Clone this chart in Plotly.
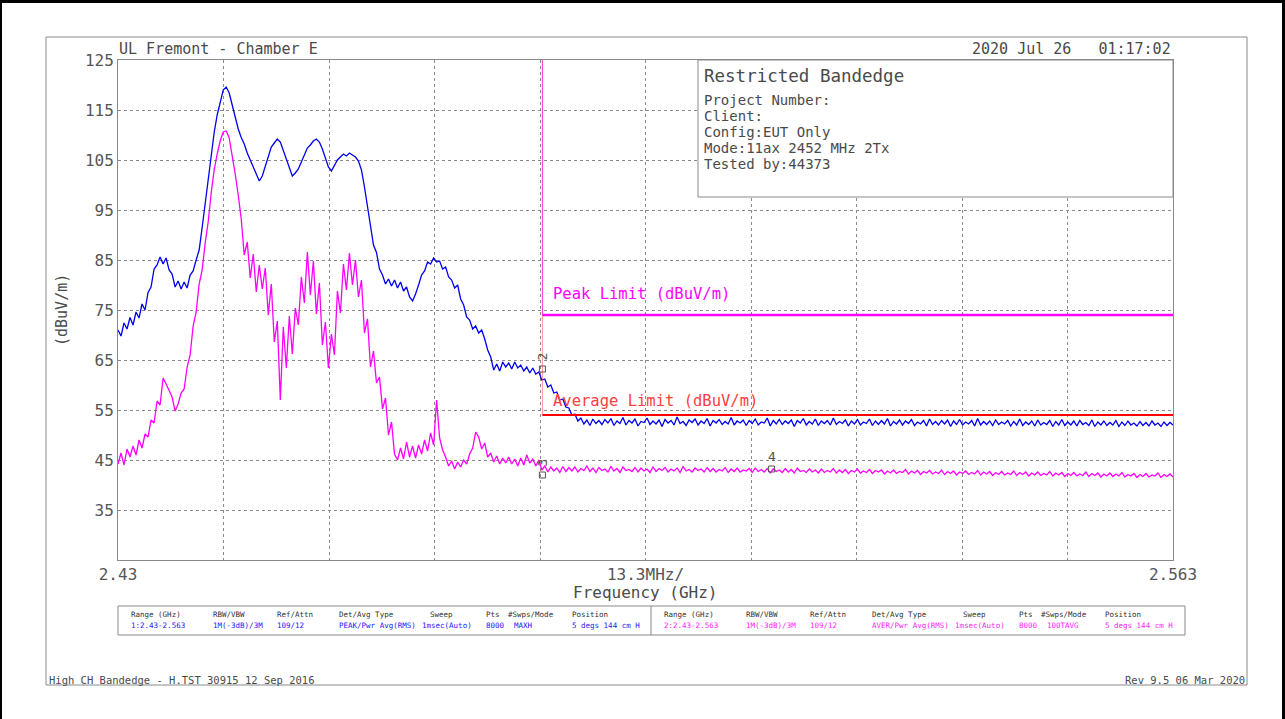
import numpy as np
import plotly.graph_objects as go

# ---------------- data ----------------
F_START, F_STOP = 2.43, 2.563          # GHz
Y_MIN, Y_MAX = 25, 125                 # dBuV/m

# Trace 1: PEAK / MAXH (blue) on a uniform sweep grid
peak_vals = [
    71.0, 69.8, 72.4, 71.2, 73.5, 72.0, 74.6, 73.4, 76.2, 75.0,
    78.5, 79.6, 83.2, 84.0, 85.6, 84.2, 85.4, 83.0, 82.2, 79.6,
    80.8, 79.2, 80.6, 79.4, 82.0, 82.8, 85.0, 87.0, 91.5, 96.5,
    101.5, 106.0, 110.5, 114.0, 116.8, 119.0, 119.6, 118.4, 116.0, 113.6,
    111.2, 109.5, 108.2, 106.4, 105.0, 103.4, 102.2, 100.8, 101.8, 103.6,
    105.8, 107.6, 108.4, 109.2, 108.6, 107.0, 105.2, 103.6, 101.8, 102.4,
    103.2, 104.6, 106.0, 107.4, 108.0, 108.8, 109.2, 108.6, 107.2, 105.4,
    103.6, 102.8, 104.0, 105.0, 105.6, 106.2, 105.8, 106.4, 106.0, 105.6,
    104.8, 103.0, 99.6, 96.0, 92.5, 88.0, 86.5, 83.2, 82.0, 80.2,
    81.2, 79.8, 81.0, 79.4, 80.6, 78.8, 79.6, 77.6, 76.8, 78.2,
    80.0, 82.0, 82.8, 84.6, 84.2, 85.4, 84.6, 84.8, 83.2, 83.6,
    81.6, 81.0, 79.4, 80.0, 77.2, 76.0, 73.6, 73.0, 71.2, 71.8,
    70.4, 71.0, 69.2, 67.0, 65.6, 63.0, 64.2, 62.8, 64.6, 63.6,
    64.4, 63.2, 64.6, 63.4, 64.0, 62.8, 63.6, 62.4, 63.4, 62.2,
    62.6, 61.0, 61.2, 59.6, 60.0, 58.4, 58.6, 57.0, 57.2, 55.6,
    55.4, 54.0, 54.2, 52.8, 53.4, 52.2, 53.0, 51.9, 53.2, 52.3,
    52.9, 52.1, 53.1, 52.4, 53.3, 51.9, 52.8, 52.3, 53.5, 52.0, 52.9, 52.4,
    53.2, 51.8, 52.7, 52.5, 53.4, 52.1, 52.8, 52.2, 53.0, 51.7, 53.1, 52.4,
    52.9, 52.0, 53.6, 52.3, 52.7, 51.9, 53.0, 52.5, 53.2, 52.0, 52.8, 52.3,
    53.3, 51.8, 52.9, 52.4, 53.1, 52.1, 52.7, 52.2, 53.5, 52.0, 52.8, 52.4,
    53.0, 51.9, 52.9, 52.3, 53.2, 52.0, 52.6, 52.4, 53.4, 51.8, 52.9, 52.2,
    53.1, 52.1, 52.8, 52.3, 53.0, 51.7, 52.9, 52.4, 53.3, 52.0, 52.7, 52.2,
    53.2, 51.9, 52.8, 52.3, 52.9, 52.0, 53.4, 52.1, 52.7, 52.3, 53.0, 51.8,
    52.8, 52.2, 53.1, 52.0, 52.6, 52.3, 53.2, 51.9, 52.8, 52.1, 52.9, 52.2,
    53.3, 51.8, 52.7, 52.2, 53.0, 52.0, 52.8, 52.3, 53.1, 51.9, 52.6, 52.2,
    52.9, 51.8, 53.2, 52.1, 52.7, 52.0, 52.9, 52.2, 53.0, 51.7, 52.8, 52.1,
    53.1, 52.0, 52.6, 52.2, 52.9, 51.8, 53.3, 52.0, 52.7, 52.1, 52.8, 51.9,
    53.0, 52.1, 52.6, 52.2, 52.9, 51.8, 52.7, 52.0, 53.2, 51.9, 52.6, 52.1,
    52.8, 51.8, 53.0, 52.0, 52.5, 52.1, 52.9, 51.7, 52.7, 52.0, 53.1, 51.9,
    52.6, 52.0, 52.8, 51.8, 52.9, 52.1, 52.5, 51.9, 53.0, 51.7, 52.6, 52.0,
    52.8, 51.9, 52.5, 52.0, 52.9, 51.7, 52.6, 51.9, 52.8, 52.0, 52.4, 51.8,
    52.7, 51.9, 52.5, 51.8, 52.8, 52.0, 52.4, 51.7, 52.6, 51.9, 52.5, 52.0,
]

# Trace 2: AVER / 100TAVG (magenta)
avg_vals = [
    44.2, 46.4, 44.0, 47.2, 45.6, 47.8, 46.0, 49.0, 47.4, 50.2,
    49.6, 53.0, 52.4, 56.8, 56.0, 61.4, 60.2, 59.0, 57.6, 54.8,
    56.2, 58.4, 59.2, 63.6, 66.0, 71.8, 74.6, 80.2, 83.0, 88.4,
    92.6, 98.4, 103.0, 106.2, 108.8, 110.6, 110.8, 109.4, 106.0, 102.2,
    98.0, 93.2, 86.0, 88.6, 81.4, 86.2, 78.6, 84.0, 79.2, 83.4,
    74.0, 80.2, 68.6, 72.8, 57.0, 71.6, 63.4, 73.8, 66.2, 75.4,
    72.0, 81.6, 76.4, 86.6, 78.0, 84.8, 74.2, 80.4, 68.0, 72.6,
    63.4, 70.2, 66.0, 78.8, 74.4, 84.2, 79.0, 86.4, 80.0, 85.0,
    77.6, 81.0, 70.4, 73.2, 63.6, 66.8, 60.4, 61.6, 55.2, 57.4,
    50.0, 52.6, 46.2, 45.0, 47.4, 45.2, 48.6, 45.6, 47.8, 45.4,
    48.0, 46.2, 49.0, 46.8, 50.4, 48.0, 57.0, 49.4, 47.0, 45.6,
    43.8, 44.8, 43.2, 44.6, 43.6, 45.0, 44.2, 46.2, 47.4, 50.6,
    49.6, 47.2, 48.4, 45.6, 46.4, 44.6, 45.8, 44.2, 45.4, 44.4,
    45.6, 44.2, 45.2, 43.8, 45.4, 44.0, 46.0, 44.4, 45.2, 43.8,
    45.0, 43.0, 43.8, 42.6, 43.6, 42.8, 43.4, 42.5, 43.7, 42.7,
    43.5, 42.8, 43.6, 42.6, 43.3, 42.9, 43.8, 42.7, 43.4, 42.5, 43.5, 42.9,
    43.2, 42.6, 43.7, 42.8, 43.3, 42.5, 43.6, 42.9, 43.1, 42.7, 43.5, 42.6,
    43.4, 42.8, 43.2, 42.5, 43.6, 42.7, 43.3, 42.9, 43.5, 42.6, 43.2, 42.8,
    43.4, 42.5, 43.7, 42.8, 43.1, 42.6, 43.4, 42.9, 43.2, 42.6, 43.5, 42.7,
    43.3, 42.6, 43.1, 42.8, 43.5, 42.5, 43.2, 42.7, 43.4, 42.6, 43.0, 42.8,
    43.3, 42.5, 43.4, 42.7, 43.1, 42.6, 43.3, 42.4, 43.2, 42.7, 43.0, 42.5,
    43.3, 42.6, 43.1, 42.4, 43.4, 42.7, 42.9, 42.5, 43.2, 42.6, 43.0, 42.4,
    43.2, 42.5, 42.9, 42.6, 43.3, 42.4, 43.0, 42.5, 43.1, 42.3, 42.9, 42.6,
    43.2, 42.4, 42.8, 42.5, 43.1, 42.3, 42.9, 42.6, 43.0, 42.2, 42.8, 42.4,
    43.0, 42.3, 42.7, 42.5, 43.1, 42.2, 42.8, 42.4, 42.9, 42.1, 42.7, 42.4,
    42.9, 42.2, 42.6, 42.3, 43.0, 42.1, 42.7, 42.3, 42.8, 42.0, 42.6, 42.3,
    42.8, 42.1, 42.5, 42.2, 42.9, 42.0, 42.6, 42.2, 42.7, 41.9, 42.5, 42.1,
    42.7, 42.0, 42.4, 42.1, 42.8, 41.9, 42.5, 42.1, 42.6, 41.8, 42.4, 42.0,
    42.6, 41.9, 42.3, 42.0, 42.7, 41.8, 42.4, 42.0, 42.5, 41.7, 42.3, 41.9,
    42.5, 41.8, 42.2, 41.9, 42.6, 41.7, 42.3, 41.9, 42.4, 41.6, 42.2, 41.8,
    42.4, 41.7, 42.2, 41.8, 42.5, 41.6, 42.1, 41.8, 42.3, 41.5, 42.1, 41.7,
    42.3, 41.6, 42.0, 41.8, 42.4, 41.5, 42.1, 41.7, 42.2, 41.6,
]

freq_peak = np.linspace(F_START, F_STOP, len(peak_vals))
freq_avg = np.linspace(F_START, F_STOP, len(avg_vals))

band_edge = 2.4835
peak_limit = 74.0
avg_limit = 54.0

marker_labels = ["2", "3", "4"]
marker_freqs = [2.4835, 2.4835, 2.5124]
marker_vals = [63.2, 42.0, 43.2]

y_tick_vals = [35, 45, 55, 65, 75, 85, 95, 105, 115, 125]
x_grid_vals = list(np.linspace(F_START, F_STOP, 11))
x_tick_text = ["2.43", "", "", "", "", "13.3MHz/", "", "", "", "", "2.563"]

info_title = "Restricted Bandedge"
info_lines = ["Project Number:", "Client:", "Config:EUT Only",
              "Mode:11ax 2452 MHz 2Tx", "Tested by:44373"]

table_headers = ["Range (GHz)", "RBW/VBW", "Ref/Attn", "Det/Avg Type",
                 "Sweep", "Pts", "#Swps/Mode", "Position"]
table_trace1 = ["1:2.43-2.563", "1M(-3dB)/3M", "109/12", "PEAK/Pwr Avg(RMS)",
                "1msec(Auto)", "8000", "MAXH", "5 degs 144 cm H"]
table_trace2 = ["2:2.43-2.563", "1M(-3dB)/3M", "109/12", "AVER/Pwr Avg(RMS)",
                "1msec(Auto)", "8000", "100TAVG", "5 degs 144 cm H"]

# ---------------- layout helpers ----------------
W, H = 1285, 719
PL, PR, PT, PB = 118, 1173, 60, 560     # plot-area pixel box


def px(x):
    return (x - PL) / (PR - PL)


def py(y):
    return (PB - y) / (PB - PT)


FONT = "DejaVu Sans Mono"
TXT = "#4a4a4a"
GRID = "#8a8a8a"
BLUE = "#0000ee"
MAG = "#ff00ff"
RED = "#ff0000"

fig = go.Figure()

fig.add_trace(go.Scatter(x=freq_peak, y=peak_vals, mode="lines",
                         line=dict(color=BLUE, width=1.3), hoverinfo="skip"))
fig.add_trace(go.Scatter(x=freq_avg, y=avg_vals, mode="lines",
                         line=dict(color=MAG, width=1.3), hoverinfo="skip"))

# limit lines
fig.add_trace(go.Scatter(x=[band_edge, band_edge], y=[Y_MAX, avg_limit], mode="lines",
                         line=dict(color="rgba(255,60,60,0.55)", width=1), hoverinfo="skip"))
fig.add_trace(go.Scatter(x=[band_edge, band_edge], y=[Y_MAX, peak_limit], mode="lines",
                         line=dict(color="rgba(255,0,255,0.6)", width=1), hoverinfo="skip"))
fig.add_trace(go.Scatter(x=[band_edge, F_STOP], y=[avg_limit, avg_limit], mode="lines",
                         line=dict(color=RED, width=2), hoverinfo="skip"))
fig.add_trace(go.Scatter(x=[band_edge, F_STOP], y=[peak_limit, peak_limit], mode="lines",
                         line=dict(color=MAG, width=2.5), hoverinfo="skip"))

# markers
fig.add_trace(go.Scatter(x=marker_freqs, y=marker_vals, mode="markers",
                         marker=dict(symbol="square-open", size=6,
                                     color="#555555", line=dict(width=1, color="#555555")),
                         hoverinfo="skip"))

annotations = []
for lab, f, v, ang in zip(marker_labels, marker_freqs, marker_vals, [-90, -90, 0]):
    annotations.append(dict(x=f, y=v, xref="x", yref="y", text=lab, showarrow=False,
                            textangle=ang, yshift=13, font=dict(family=FONT, size=13, color="#555555")))

annotations.append(dict(x=band_edge, y=peak_limit, xref="x", yref="y",
                        text="Peak Limit (dBuV/m)", showarrow=False, xanchor="left",
                        xshift=9, yshift=21, font=dict(family=FONT, size=15.5, color=MAG)))
annotations.append(dict(x=band_edge, y=avg_limit, xref="x", yref="y",
                        text="Average Limit (dBuV/m)", showarrow=False, xanchor="left",
                        xshift=9, yshift=14, font=dict(family=FONT, size=15.5, color="#ff4040")))

# header texts
annotations.append(dict(x=px(117), y=py(49), xref="paper", yref="paper", text="UL Fremont - Chamber E",
                        showarrow=False, xanchor="left", yanchor="middle",
                        font=dict(family=FONT, size=15, color=TXT)))
annotations.append(dict(x=px(1173), y=py(49), xref="paper", yref="paper",
                        text="2020 Jul 26\u00a0\u00a0\u00a001:17:02",
                        showarrow=False, xanchor="right", yanchor="middle",
                        font=dict(family=FONT, size=15, color=TXT)))
annotations.append(dict(x=px(62), y=py(310), xref="paper", yref="paper", text="(dBuV/m)",
                        showarrow=False, textangle=-90, xanchor="center", yanchor="middle",
                        font=dict(family=FONT, size=15, color=TXT)))
annotations.append(dict(x=px(645), y=py(592), xref="paper", yref="paper", text="Frequency (GHz)",
                        showarrow=False, xanchor="center", yanchor="middle",
                        font=dict(family=FONT, size=16, color=TXT)))

# info box
annotations.append(dict(x=px(702), y=py(76), xref="paper", yref="paper", text=info_title,
                        showarrow=False, xanchor="left", yanchor="middle",
                        font=dict(family=FONT, size=17.5, color=TXT)))
for i, line in enumerate(info_lines):
    annotations.append(dict(x=px(702), y=py(100 + 16 * i), xref="paper", yref="paper", text=line,
                            showarrow=False, xanchor="left", yanchor="middle",
                            font=dict(family=FONT, size=14, color=TXT)))

# table
head_off = [11, 93, 157, 219, 310, 366, 388, 452]
val_off = [11, 93, 157, 219, 302, 366, 394, 452]
for x0, vals, col in [(118, table_trace1, "#1a1aff"), (651, table_trace2, "#ff22ff")]:
    for h, v, ho, vo in zip(table_headers, vals, head_off, val_off):
        annotations.append(dict(x=px(x0 + ho), y=py(614), xref="paper", yref="paper", text=h,
                                showarrow=False, xanchor="left", yanchor="middle",
                                font=dict(family=FONT, size=7.5, color="#303030")))
        annotations.append(dict(x=px(x0 + vo), y=py(625), xref="paper", yref="paper", text=v,
                                showarrow=False, xanchor="left", yanchor="middle",
                                font=dict(family=FONT, size=7.5, color=col)))

# footer
annotations.append(dict(x=px(47), y=py(680), xref="paper", yref="paper",
                        text="High CH Bandedge - H.TST 30915 12 Sep 2016",
                        showarrow=False, xanchor="left", yanchor="middle",
                        font=dict(family=FONT, size=10.5, color=TXT)))
annotations.append(dict(x=px(1247), y=py(680), xref="paper", yref="paper",
                        text="Rev 9.5 06 Mar 2020",
                        showarrow=False, xanchor="right", yanchor="middle",
                        font=dict(family=FONT, size=10.5, color=TXT)))

shapes = [
    # outer frame
    dict(type="rect", xref="paper", yref="paper", x0=px(46), x1=px(1247), y0=py(37), y1=py(685),
         line=dict(color="#8a8a8a", width=1), layer="below"),
    # info box (covers grid)
    dict(type="rect", xref="paper", yref="paper", x0=px(698), x1=px(1173), y0=py(60), y1=py(197),
         line=dict(color="#8a8a8a", width=1), fillcolor="white", layer="above"),
    # table
    dict(type="rect", xref="paper", yref="paper", x0=px(118), x1=px(1185), y0=py(606), y1=py(635),
         line=dict(color="#8a8a8a", width=1)),
    dict(type="line", xref="paper", yref="paper", x0=px(651), x1=px(651), y0=py(606), y1=py(635),
         line=dict(color="#8a8a8a", width=1)),
    # black screenshot border
    dict(type="rect", xref="paper", yref="paper", x0=px(0), x1=px(W), y0=py(0), y1=py(3),
         line=dict(width=0), fillcolor="black"),
    dict(type="rect", xref="paper", yref="paper", x0=px(0), x1=px(2), y0=py(0), y1=py(H),
         line=dict(width=0), fillcolor="black"),
    dict(type="rect", xref="paper", yref="paper", x0=px(W - 3), x1=px(W), y0=py(0), y1=py(H),
         line=dict(width=0), fillcolor="black"),
]

fig.update_layout(
    width=W, height=H, autosize=False,
    margin=dict(l=PL, r=W - PR, t=PT, b=H - PB, pad=0),
    paper_bgcolor="white", plot_bgcolor="white",
    showlegend=False,
    annotations=annotations, shapes=shapes,
    font=dict(family=FONT, color=TXT),
)
fig.update_xaxes(range=[F_START, F_STOP], tickvals=x_grid_vals, ticktext=x_tick_text,
                 showgrid=True, gridcolor=GRID, griddash="dot", gridwidth=1,
                 showline=True, linecolor=GRID, linewidth=1, mirror=True,
                 zeroline=False, ticks="", tickfont=dict(family=FONT, size=16, color="#555555"))
fig.update_yaxes(range=[Y_MIN, Y_MAX], tickvals=y_tick_vals,
                 showgrid=True, gridcolor=GRID, griddash="dot", gridwidth=1,
                 showline=True, linecolor=GRID, linewidth=1, mirror=True,
                 zeroline=False, ticks="", tickfont=dict(family=FONT, size=16, color="#555555"))

# remove the browser's default 8px page margin so the figure sits at (0, 0)
fig.write_html("out.html",
               config={"displayModeBar": False, "staticPlot": True},
               post_script="document.body.style.margin='0';document.body.style.overflow='hidden';")
